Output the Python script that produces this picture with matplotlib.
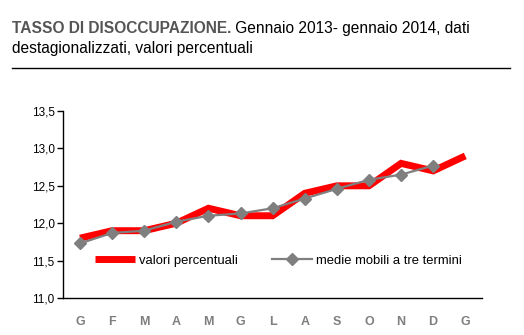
import matplotlib
matplotlib.use("Agg")
import matplotlib.pyplot as plt
import numpy as np

plt.rcParams["font.family"] = ["Liberation Sans", "DejaVu Sans"]

MESI = ["G", "F", "M", "A", "M", "G", "L", "A", "S", "O", "N", "D", "G"]
valori = [11.8, 11.9, 11.9, 12.0, 12.2, 12.1, 12.1, 12.4, 12.5, 12.5, 12.8, 12.7, 12.9]
medie = [11.73, 11.87, 11.9, 12.02, 12.1, 12.13, 12.2, 12.33, 12.46, 12.58, 12.65, 12.77]
YTICKS = [11.0, 11.5, 12.0, 12.5, 13.0, 13.5]

RED = "#ff0000"
GREY = "#7f7f7f"

fig = plt.figure(figsize=(5.24, 3.35), dpi=100)
ax = fig.add_axes([0.1202, 0.1104, 0.7996, 0.5582])

x = np.arange(len(MESI))
ax.plot(x, valori, color=RED, lw=5, solid_capstyle="butt", solid_joinstyle="miter",
        label="valori percentuali")
ax.plot(x[:len(medie)], medie, color=GREY, lw=1.6, marker="D", ms=6.5,
        label="medie mobili a tre termini")

ax.set_xlim(-0.53, 12.52)
ax.set_ylim(11.0, 13.5)
ax.set_yticks(YTICKS)
ax.set_yticklabels([f"{v:.1f}".replace(".", ",") for v in YTICKS], fontsize=8.5)
ax.set_xticks(x)
ax.set_xticklabels(MESI, fontsize=9, fontweight="bold", color=GREY)
ax.tick_params(axis="x", length=0, pad=13)
ax.tick_params(axis="y", length=4, width=1, pad=2)
for s in ["top", "right"]:
    ax.spines[s].set_visible(False)
ax.spines["left"].set_linewidth(1)
ax.spines["bottom"].set_linewidth(1)

ax.legend(loc="center left", bbox_to_anchor=(0.063, 0.2), ncol=2, frameon=False,
          fontsize=9.4, handlelength=3.1, handletextpad=0.3, columnspacing=2.6,
          borderaxespad=0)

# titolo
t1 = fig.text(0.023, 0.901, "TASSO DI DISOCCUPAZIONE.", fontsize=11.2, fontweight="bold",
              color="#555555", ha="left", va="baseline")
fig.add_artist(matplotlib.text.Annotation(" Gennaio 2013- gennaio 2014, dati", xy=(1, 0),
                                          xycoords=t1, va="bottom", ha="left",
                                          fontsize=11.2, color="black"))
fig.text(0.023, 0.841, "destagionalizzati, valori percentuali", fontsize=11.2,
         ha="left", va="baseline")
fig.add_artist(plt.Line2D([0.023, 0.973], [0.797, 0.797], transform=fig.transFigure,
                          color="black", lw=1))

fig.savefig("out.png", dpi=100)
